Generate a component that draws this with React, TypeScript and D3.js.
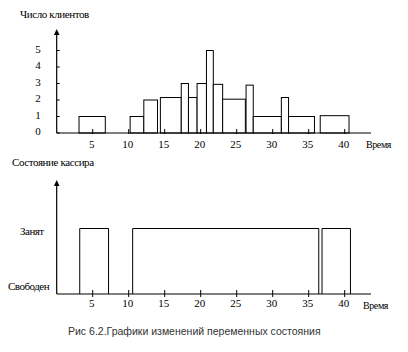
import React from 'react';
import * as d3 from 'd3';

// верхний график: число клиентов по интервалам времени
const barStart = [3.1, 10.2, 12.1, 14.4, 17.3, 18.3, 19.5, 20.8, 21.75, 23.05, 26.3, 27.3, 31.2, 32.2, 36.6];
const barEnd = [6.75, 12.1, 14.0, 17.3, 18.3, 19.5, 20.8, 21.75, 23.05, 26.2, 27.3, 31.2, 32.2, 35.8, 40.6];
const barCount = [1, 1, 2, 2.15, 3, 2.15, 3, 5, 2.95, 2.05, 2.9, 1, 2.15, 1, 1.05];

// нижний график: интервалы занятости кассира
const busyStart = [3.2, 10.55, 36.85];
const busyEnd = [7.2, 36.4, 40.8];

const xTicks = [5, 10, 15, 20, 25, 30, 35, 40];
const yTicks = [0, 1, 2, 3, 4, 5];
const stateLabels = ['Свободен', 'Занят'];

const width = 408;
const height = 352;
const originX = 56.7;
const axisEnd = 371;
const serif = 'Liberation Serif, DejaVu Serif, serif';

const App: React.FC = () => {
  const x = d3.scaleLinear().domain([0, 40]).range([originX, originX + 288]);

  // верх
  const baseTop = 133;
  const yTop = d3.scaleLinear().domain([0, 5]).range([baseTop, baseTop - 82.5]);

  // низ
  const baseBot = 294;
  const yBot = d3.scaleLinear().domain([0, 1]).range([baseBot, 228.5]);

  const busyPath = busyStart
    .map((s, i) => {
      const e = busyEnd[i];
      return `M${x(s)},${yBot(0)}V${yBot(1)}H${x(e)}V${yBot(0)}`;
    })
    .join('');

  const arrow = (top: number) =>
    `M${originX},${top}L${originX - 2.8},${top + 6}L${originX + 2.8},${top + 6}Z`;

  return (
    <svg width={width} height={height} style={{ position: 'absolute', left: 0, top: 0, background: '#fff' }}>
      {/* верхний график */}
      <text x={20} y={18} fontFamily={serif} fontSize={11} letterSpacing={-0.4}>Число клиентов</text>
      {barCount.map((c, i) => (
        <rect
          key={i}
          x={x(barStart[i])}
          y={yTop(c)}
          width={x(barEnd[i]) - x(barStart[i])}
          height={yTop(0) - yTop(c)}
          fill="#fff"
          stroke="#000"
          strokeWidth={1}
        />
      ))}
      <line x1={originX} x2={axisEnd} y1={baseTop} y2={baseTop} stroke="#000" strokeWidth={1.2} />
      <line x1={originX} x2={originX} y1={baseTop} y2={34} stroke="#000" strokeWidth={1.2} />
      <path d={arrow(29)} fill="#000" />
      {yTicks.map((t) => (
        <g key={t}>
          <line x1={originX} x2={originX + 3} y1={yTop(t)} y2={yTop(t)} stroke="#000" />
          <text x={38} y={yTop(t) + 2} fontFamily={serif} fontSize={11} textAnchor="middle">{t}</text>
        </g>
      ))}
      {xTicks.map((t) => (
        <g key={t}>
          <line x1={x(t)} x2={x(t)} y1={baseTop - 4} y2={baseTop + 1} stroke="#000" />
          <text x={x(t) - 1} y={148} fontFamily={serif} fontSize={11} textAnchor="middle">{t}</text>
        </g>
      ))}
      <text x={366} y={148} fontFamily={serif} fontSize={10} letterSpacing={-0.4}>Время</text>

      {/* нижний график */}
      <text x={12} y={166} fontFamily={serif} fontSize={11} letterSpacing={-0.4}>Состояние кассира</text>
      <line x1={originX} x2={axisEnd} y1={baseBot} y2={baseBot} stroke="#000" strokeWidth={1.2} />
      <line x1={originX} x2={originX} y1={baseBot} y2={185} stroke="#000" strokeWidth={1.2} />
      <path d={arrow(180)} fill="#000" />
      <path d={busyPath} fill="none" stroke="#000" strokeWidth={1} />
      {stateLabels.map((s, i) => (
        <text key={s} x={i === 0 ? 8 : 20} y={yBot(i) + (i === 0 ? -4 : 6)} fontFamily={serif} fontSize={11} letterSpacing={-0.5}>{s}</text>
      ))}
      {xTicks.map((t) => (
        <g key={t}>
          <line x1={x(t)} x2={x(t)} y1={baseBot - 4} y2={baseBot + 3} stroke="#000" />
          <text x={x(t) - 1} y={307} fontFamily={serif} fontSize={11} textAnchor="middle">{t}</text>
        </g>
      ))}
      <text x={363} y={309} fontFamily={serif} fontSize={10} letterSpacing={-0.4}>Время</text>

      <text x={68} y={335} fontFamily="Liberation Sans, Arial, sans-serif" fontSize={10.5} fill="#333">
        Рис 6.2.Графики изменений переменных состояния
      </text>
    </svg>
  );
};

export default App;
